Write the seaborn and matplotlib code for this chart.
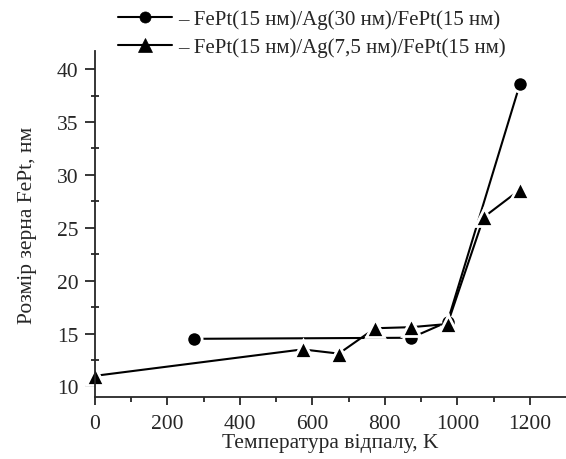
import matplotlib
matplotlib.use("Agg")
import matplotlib.pyplot as plt
import seaborn as sns
import pandas as pd

temp_ag30 = [273, 873, 973, 1173]
size_ag30 = [14.5, 14.6, 16.1, 38.6]
temp_ag75 = [0, 573, 673, 773, 873, 973, 1073, 1173]
size_ag75 = [11.0, 13.5, 13.1, 15.5, 15.6, 15.9, 26.0, 28.6]
labels = ["– FePt(15 нм)/Ag(30 нм)/FePt(15 нм)",
          "– FePt(15 нм)/Ag(7,5 нм)/FePt(15 нм)"]
xticks = [0, 200, 400, 600, 800, 1000, 1200]
yticks = [10, 15, 20, 25, 30, 35, 40]

sns.set_style("ticks")
plt.rcParams['font.family'] = ['Liberation Serif', 'DejaVu Serif']

df = pd.concat([
    pd.DataFrame({"T": temp_ag30, "D": size_ag30, "s": labels[0]}),
    pd.DataFrame({"T": temp_ag75, "D": size_ag75, "s": labels[1]}),
])

fig = plt.figure(figsize=(5.66, 4.6), dpi=100)
ax = fig.add_axes([0.1678, 0.1348, 0.8322, 0.752])
sns.lineplot(data=df, x="T", y="D", hue="s", style="s",
             markers={labels[0]: "o", labels[1]: "^"}, dashes=False,
             palette={labels[0]: "black", labels[1]: "black"},
             markersize=11, markeredgecolor="white", markeredgewidth=2.0,
             linewidth=1.5, ax=ax, legend=True, sort=False, clip_on=False)
# triangles look smaller than circles at the same size
for ln in ax.lines:
    if ln.get_marker() == "^":
        ln.set_markersize(13.5)

ax.set_xlim(0, 1300)
ax.set_ylim(9.0, 41.7)
ax.set_xticks(xticks)
ax.set_yticks(yticks)
ax.set_xticks(range(100, 1300, 200), minor=True)
ax.set_yticks([12.5, 17.5, 22.5, 27.5, 32.5, 37.5], minor=True)
ax.tick_params(axis="both", which="major", direction="out", length=6, width=1.3,
               labelsize=15.5)
ax.tick_params(axis="y", which="major", length=7, pad=5)
ax.tick_params(axis="x", which="major", pad=6)
ax.tick_params(axis="x", which="minor", direction="out", length=3.5, width=1.3)
ax.tick_params(axis="y", which="minor", direction="inout", length=6, width=1.3)
for sp in ["top", "right"]:
    ax.spines[sp].set_visible(False)
for sp in ["left", "bottom"]:
    ax.spines[sp].set_linewidth(1.3)
ax.set_xlabel("Температура відпалу, K", fontsize=15.5, labelpad=0)
ax.set_ylabel("Розмір зерна FePt, нм", fontsize=15.5, labelpad=14)

handles, labs = ax.get_legend_handles_labels()
leg = ax.legend(handles, labs, loc="upper left", bbox_to_anchor=(0.194, 0.996),
                bbox_transform=fig.transFigure,
                frameon=False, fontsize=15, handlelength=2.6, handletextpad=0.3,
                labelspacing=0.4, borderaxespad=0)
for h in leg.legend_handles:
    h.set_markeredgecolor("black")
    h.set_markeredgewidth(0.5)
    h.set_markersize(8 if h.get_marker() == "o" else 9.5)

fig.savefig("out.png", dpi=100)
